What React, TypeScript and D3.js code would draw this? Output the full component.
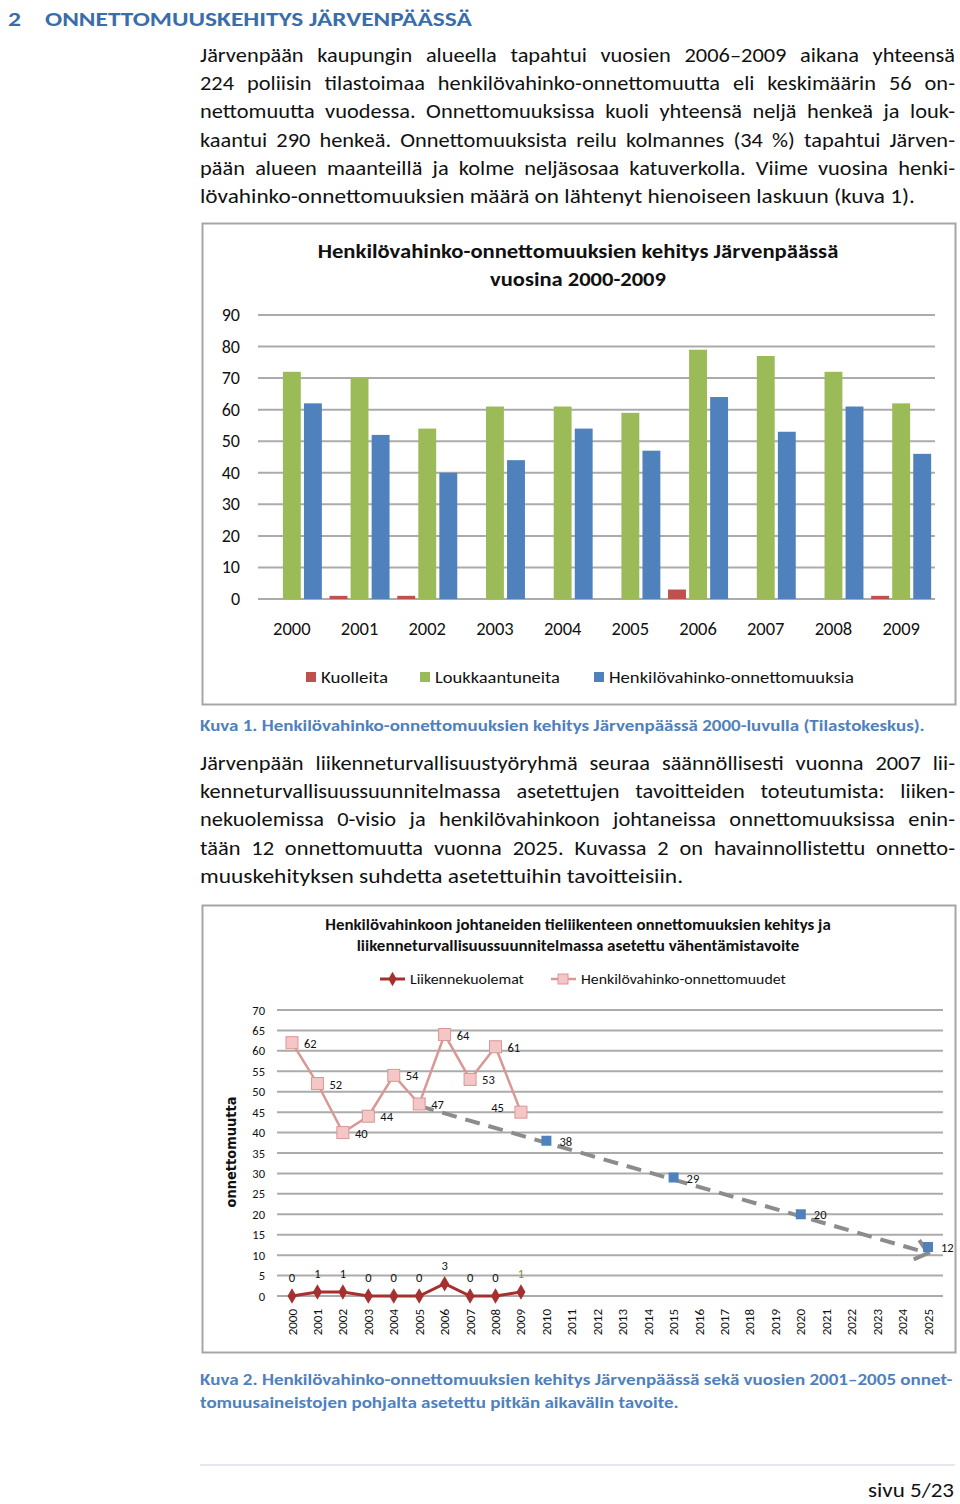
import React, { useLayoutEffect, useRef } from "react";
import * as d3 from "d3";

// ---------- Data: chart 1 ----------
const years1 = ["2000", "2001", "2002", "2003", "2004", "2005", "2006", "2007", "2008", "2009"];
const kuolleita = [0, 1, 1, 0, 0, 0, 3, 0, 0, 1];
const loukkaantuneita = [72, 70, 54, 61, 61, 59, 79, 77, 72, 62];
const onnettomuuksia = [62, 52, 40, 44, 54, 47, 64, 53, 61, 46];
const yTicks1 = [0, 10, 20, 30, 40, 50, 60, 70, 80, 90];
const seriesNames1 = ["Kuolleita", "Loukkaantuneita", "Henkilövahinko-onnettomuuksia"];
const seriesColors1 = ["#C0504D", "#9BBB59", "#4F81BD"];

// ---------- Data: chart 2 ----------
const years2 = [
  "2000", "2001", "2002", "2003", "2004", "2005", "2006", "2007", "2008", "2009",
  "2010", "2011", "2012", "2013", "2014", "2015", "2016", "2017", "2018", "2019",
  "2020", "2021", "2022", "2023", "2024", "2025",
];
const liikennekuolemat = [0, 1, 1, 0, 0, 0, 3, 0, 0, 1];
const henkilovahinko = [62, 52, 40, 44, 54, 47, 64, 53, 61, 45];
const tavoiteYears = ["2010", "2015", "2020", "2025"];
const tavoite = [38, 29, 20, 12];
const tavoiteLineYears = ["2005", "2025"];
const tavoiteLineValues = [46.5, 10.5];
const yTicks2 = [0, 5, 10, 15, 20, 25, 30, 35, 40, 45, 50, 55, 60, 65, 70];

// ---------- Text ----------
const para1 = [
  "Järvenpään kaupungin alueella tapahtui vuosien 2006–2009 aikana yhteensä",
  "224 poliisin tilastoimaa henkilövahinko-onnettomuutta eli keskimäärin 56 on-",
  "nettomuutta vuodessa. Onnettomuuksissa kuoli yhteensä neljä henkeä ja louk-",
  "kaantui 290 henkeä. Onnettomuuksista reilu kolmannes (34 %) tapahtui Järven-",
  "pään alueen maanteillä ja kolme neljäsosaa katuverkolla. Viime vuosina henki-",
  "lövahinko-onnettomuuksien määrä on lähtenyt hienoiseen laskuun (kuva 1).",
];
const para1Widths = [755, 755, 755, 755, 755, 715];
const para2 = [
  "Järvenpään liikenneturvallisuustyöryhmä seuraa säännöllisesti vuonna 2007 lii-",
  "kenneturvallisuussuunnitelmassa asetettujen tavoitteiden toteutumista: liiken-",
  "nekuolemissa 0-visio ja henkilövahinkoon johtaneissa onnettomuuksissa enin-",
  "tään 12 onnettomuutta vuonna 2025. Kuvassa 2 on havainnollistettu onnetto-",
  "muuskehityksen suhdetta asetettuihin tavoitteisiin.",
];
const para2Widths = [755, 755, 755, 755, 483];
const caption1 = "Kuva 1. Henkilövahinko-onnettomuuksien kehitys Järvenpäässä 2000-luvulla (Tilastokeskus).";
const caption2 = [
  "Kuva 2. Henkilövahinko-onnettomuuksien kehitys Järvenpäässä sekä vuosien 2001–2005 onnet-",
  "tomuusaineistojen pohjalta asetettu pitkän aikavälin tavoite.",
];
const legend1Widths = [67, 125, 245];

const FONT = "Carlito, Calibri, Lato, 'Noto Sans', sans-serif";

type FitProps = {
  x: number;
  y: number;
  w: number;
  mode?: "fit" | "justify";
  sx?: number;
  rot?: number;
  anchor?: string;
  size: number;
  bold?: boolean;
  fill?: string;
  family?: string;
  children: React.ReactNode;
};

function FitText({ x, y, w, mode = "fit", sx = 1, rot = 0, anchor = "start", size, bold, fill = "#111", family, children }: FitProps) {
  return (
    <text
      data-w={w}
      data-mode={mode}
      data-sx={sx}
      data-x={x}
      data-y={y}
      data-rot={rot}
      transform={`translate(${x},${y}) rotate(${rot}) scale(${sx},1)`}
      textAnchor={anchor}
      fontSize={size}
      fontWeight={bold ? "bold" : "normal"}
      fill={fill}
      fontFamily={family}
    >
      {children}
    </text>
  );
}

export default function App() {
  const ref = useRef<SVGSVGElement>(null);

  useLayoutEffect(() => {
    const svg = ref.current;
    if (!svg) return;
    svg.querySelectorAll("text[data-w]").forEach((node) => {
      const el = node as SVGTextElement;
      const target = +(el.getAttribute("data-w") || 0);
      const mode = el.getAttribute("data-mode");
      const x = el.getAttribute("data-x");
      const y = el.getAttribute("data-y");
      const rot = el.getAttribute("data-rot");
      el.style.wordSpacing = "0px";
      const w0 = el.getComputedTextLength();
      if (!w0) return;
      if (mode === "justify") {
        const s = +(el.getAttribute("data-sx") || 1);
        const spaces = (el.textContent || "").split(" ").length - 1;
        if (spaces > 0) el.style.wordSpacing = (target / s - w0) / spaces + "px";
        el.setAttribute("transform", `translate(${x},${y}) rotate(${rot}) scale(${s},1)`);
      } else {
        const s = target / w0;
        el.setAttribute("transform", `translate(${x},${y}) rotate(${rot}) scale(${s},1)`);
      }
    });
  }, []);

  // Chart 1 scales
  const x1 = d3.scaleBand<string>().domain(years1).range([258, 935]);
  const y1 = d3.scaleLinear().domain([0, 90]).range([599, 315]);
  const inner = d3.scaleBand<string>().domain(seriesNames1).range([-30, 30]).paddingInner(0.15);
  const values1 = [kuolleita, loukkaantuneita, onnettomuuksia];

  // Chart 2 scales
  const x2 = d3.scalePoint<string>().domain(years2).range([292, 928]);
  const y2 = d3.scaleLinear().domain([0, 70]).range([1296, 1010]);
  const line2 = d3
    .line<number>()
    .x((_, i) => x2(years2[i]) as number)
    .y((d) => y2(d));
  const diamond = d3.symbol().type(d3.symbolDiamond).size(70)() as string;
  const legendDiamond = d3.symbol().type(d3.symbolDiamond).size(60)() as string;

  const legend1X = [306, 420, 594];
  const BODY_SX = 1.12;

  return (
    <svg
      ref={ref}
      width={960}
      height={1504}
      style={{ position: "absolute", left: 0, top: 0, display: "block", background: "#fff" }}
      fontFamily={FONT}
    >
      <defs>
        <marker
          id="arrow"
          markerUnits="userSpaceOnUse"
          markerWidth={30}
          markerHeight={30}
          refX={15}
          refY={15}
          orient="auto"
        >
          <path d="M3,5 L15,15 L3,25" fill="none" stroke="#8C8C8C" strokeWidth={4} />
        </marker>
      </defs>

      {/* Heading */}
      <FitText x={8} y={26} w={13} size={20} bold fill="#3A6DAA">2</FitText>
      <FitText x={45} y={26} w={427} size={20} bold fill="#3A6DAA">
        ONNETTOMUUSKEHITYS JÄRVENPÄÄSSÄ
      </FitText>

      {/* Paragraph 1 */}
      {para1.map((t, i) => (
        <FitText
          key={"p1" + i}
          x={200}
          y={62 + i * 28.2}
          w={para1Widths[i]}
          size={20}
          mode={i === para1.length - 1 ? "fit" : "justify"}
          sx={BODY_SX}
        >
          {t}
        </FitText>
      ))}

      {/* Chart 1 */}
      <rect x={202.5} y={223.5} width={753} height={481} fill="#fff" stroke="#A6A6A6" strokeWidth={2} />
      <FitText x={578} y={258} w={521} anchor="middle" size={20} bold>
        Henkilövahinko-onnettomuuksien kehitys Järvenpäässä
      </FitText>
      <FitText x={578} y={286} w={176} anchor="middle" size={20} bold>
        vuosina 2000-2009
      </FitText>
      {yTicks1.map((t) => (
        <g key={"g1" + t}>
          <line x1={258} x2={935} y1={y1(t)} y2={y1(t)} stroke="#ABABAB" strokeWidth={2} />
          <text x={240} y={y1(t) + 6} textAnchor="end" fontSize={18} fill="#111">
            {t}
          </text>
        </g>
      ))}
      {years1.map((yr, i) => (
        <g key={"b" + yr}>
          {values1.map((vals, s) =>
            vals[i] > 0 ? (
              <rect
                key={s}
                x={(x1(yr) as number) + x1.bandwidth() / 2 + (inner(seriesNames1[s]) as number)}
                width={inner.bandwidth()}
                y={y1(vals[i])}
                height={y1(0) - y1(vals[i])}
                fill={seriesColors1[s]}
              />
            ) : null
          )}
          <text x={(x1(yr) as number) + x1.bandwidth() / 2} y={635} textAnchor="middle" fontSize={18.5} fill="#111">
            {yr}
          </text>
        </g>
      ))}
      {seriesNames1.map((name, s) => (
        <g key={"l1" + s}>
          <rect x={legend1X[s]} y={672} width={10} height={10} fill={seriesColors1[s]} />
          <FitText x={legend1X[s] + 15} y={683} w={legend1Widths[s]} size={17}>
            {name}
          </FitText>
        </g>
      ))}

      {/* Caption 1 */}
      <FitText x={200} y={731} w={725} size={16} bold fill="#4F81BD">
        {caption1}
      </FitText>

      {/* Paragraph 2 */}
      {para2.map((t, i) => (
        <FitText
          key={"p2" + i}
          x={200}
          y={770 + i * 28.2}
          w={para2Widths[i]}
          size={20}
          mode={i === para2.length - 1 ? "fit" : "justify"}
          sx={BODY_SX}
        >
          {t}
        </FitText>
      ))}

      {/* Chart 2 */}
      <rect x={202.5} y={905.5} width={753} height={447} fill="#fff" stroke="#A6A6A6" strokeWidth={2} />
      <FitText x={578} y={930} w={506} anchor="middle" size={15} bold>
        Henkilövahinkoon johtaneiden tieliikenteen onnettomuuksien kehitys ja
      </FitText>
      <FitText x={578} y={951} w={443} anchor="middle" size={15} bold>
        liikenneturvallisuussuunnitelmassa asetettu vähentämistavoite
      </FitText>
      {/* legend */}
      <line x1={380} x2={405} y1={979} y2={979} stroke="#A5302F" strokeWidth={3} />
      <path d={legendDiamond} transform="translate(392.5,979)" fill="#A5302F" />
      <FitText x={410} y={984} w={114} size={14}>Liikennekuolemat</FitText>
      <line x1={551} x2={576} y1={979} y2={979} stroke="#D99795" strokeWidth={2.5} />
      <rect x={558} y={974} width={10} height={10} fill="#F4C6C5" stroke="#D99795" strokeWidth={1} />
      <FitText x={581} y={984} w={205} size={14}>Henkilövahinko-onnettomuudet</FitText>

      {yTicks2.map((t) => (
        <g key={"g2" + t}>
          <line x1={277} x2={943} y1={y2(t)} y2={y2(t)} stroke="#ABABAB" strokeWidth={2} />
          <text x={265} y={y2(t) + 4.5} textAnchor="end" fontSize={12.5} fill="#111">
            {t}
          </text>
        </g>
      ))}
      {years2.map((yr) => (
        <text
          key={"x2" + yr}
          transform={`translate(${(x2(yr) as number) + 4.5},1309) rotate(-90)`}
          textAnchor="end"
          fontSize={13}
          fill="#111"
        >
          {yr}
        </text>
      ))}
      <FitText
        x={236}
        y={1152}
        w={111}
        rot={-90}
        anchor="middle"
        size={14}
        bold
        family="'DejaVu Sans', Verdana, sans-serif"
      >
        onnettomuutta
      </FitText>

      {/* Target dashed line */}
      <line
        x1={x2(tavoiteLineYears[0]) as number}
        y1={y2(tavoiteLineValues[0])}
        x2={x2(tavoiteLineYears[1]) as number}
        y2={y2(tavoiteLineValues[1])}
        stroke="#8C8C8C"
        strokeWidth={4}
        strokeDasharray="15 9"
        markerEnd="url(#arrow)"
      />
      {tavoiteYears.map((yr, i) => (
        <g key={"t" + yr}>
          <rect x={(x2(yr) as number) - 5} y={y2(tavoite[i]) - 5} width={10} height={10} fill="#4F81BD" />
          <text x={(x2(yr) as number) + 13} y={y2(tavoite[i]) + 5} fontSize={12.5} fill="#111">
            {tavoite[i]}
          </text>
        </g>
      ))}

      {/* Henkilövahinko-onnettomuudet */}
      <path d={line2(henkilovahinko) as string} fill="none" stroke="#D99795" strokeWidth={2.5} />
      {henkilovahinko.map((v, i) => {
        const cx = x2(years2[i]) as number;
        const cy = y2(v);
        const last = i === henkilovahinko.length - 1;
        return (
          <g key={"h" + i}>
            <rect x={cx - 6} y={cy - 6} width={12} height={12} fill="#F4C6C5" stroke="#D99795" strokeWidth={1} />
            <text
              x={last ? cx - 17 : cx + 12}
              y={last ? cy : cy + 5}
              textAnchor={last ? "end" : "start"}
              fontSize={12.5}
              fill="#111"
            >
              {v}
            </text>
          </g>
        );
      })}

      {/* Liikennekuolemat */}
      <path d={line2(liikennekuolemat) as string} fill="none" stroke="#A5302F" strokeWidth={3} />
      {liikennekuolemat.map((v, i) => {
        const cx = x2(years2[i]) as number;
        const cy = y2(v);
        const last = i === liikennekuolemat.length - 1;
        return (
          <g key={"k" + i}>
            <path d={diamond} transform={`translate(${cx},${cy})`} fill="#A5302F" />
            <text x={cx} y={cy - 14} textAnchor="middle" fontSize={12.5} fill={last ? "#8A8A3A" : "#111"}>
              {v}
            </text>
          </g>
        );
      })}

      {/* Caption 2 */}
      <FitText x={200} y={1385} w={753} size={16} bold fill="#4F81BD">
        {caption2[0]}
      </FitText>
      <FitText x={200} y={1408} w={479} size={16} bold fill="#4F81BD">
        {caption2[1]}
      </FitText>

      {/* Footer */}
      <line x1={200} x2={955} y1={1465} y2={1465} stroke="#DCE1EC" strokeWidth={1.5} />
      <FitText x={954} y={1497} w={86} anchor="end" size={20}>
        sivu 5/23
      </FitText>
    </svg>
  );
}
